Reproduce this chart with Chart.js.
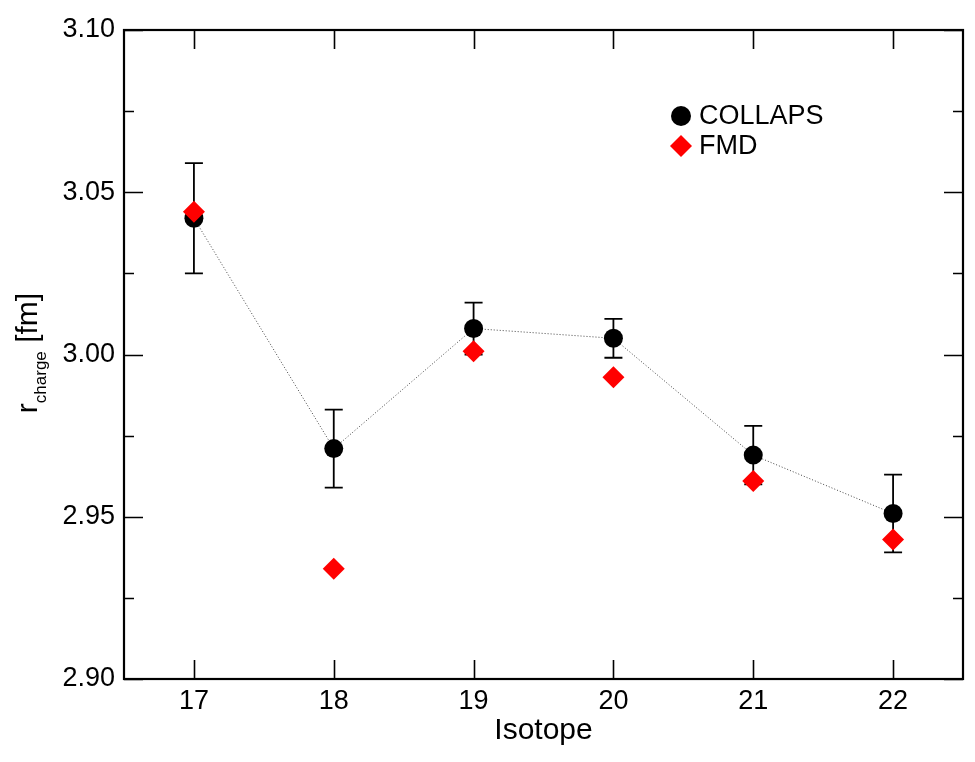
<!DOCTYPE html>
<html>
<head>
<meta charset="utf-8">
<script src="https://cdn.jsdelivr.net/npm/chart.js@4.4.1/dist/chart.umd.min.js"></script>
<style>
  html, body { margin: 0; padding: 0; background: #ffffff; }
  #wrap { width: 975px; height: 762px; }
</style>
</head>
<body>
<div id="wrap"><canvas id="c" width="975" height="762"></canvas></div>
<script>
// Charge radii of the isotopes (fm)
const isotopes = [17, 18, 19, 20, 21, 22];
const collaps = [3.042, 2.971, 3.008, 3.005, 2.969, 2.951];
const collapsErr = [0.017, 0.012, 0.008, 0.006, 0.009, 0.012];
const fmd = [3.044, 2.934, 3.001, 2.993, 2.961, 2.943];
const yTicks = [2.90, 2.95, 3.00, 3.05, 3.10];
const yMinorTicks = [2.925, 2.975, 3.025, 3.075];

const FONT = '"Liberation Sans", Arial, Helvetica, sans-serif';

// Error bars, frame with inward ticks, axis titles and legend
const decorations = {
  id: 'decorations',
  beforeDatasetsDraw(chart) {
    const ctx = chart.ctx;
    const xs = chart.scales.x, ys = chart.scales.y;
    ctx.save();
    ctx.strokeStyle = '#000';
    ctx.lineWidth = 1.8;
    isotopes.forEach((iso, i) => {
      const px = xs.getPixelForValue(iso);
      const top = ys.getPixelForValue(collaps[i] + collapsErr[i]);
      const bot = ys.getPixelForValue(collaps[i] - collapsErr[i]);
      ctx.beginPath();
      ctx.moveTo(px, top); ctx.lineTo(px, bot);
      ctx.moveTo(px - 9, top); ctx.lineTo(px + 9, top);
      ctx.moveTo(px - 9, bot); ctx.lineTo(px + 9, bot);
      ctx.stroke();
    });
    ctx.restore();
  },
  afterDraw(chart) {
    const ctx = chart.ctx;
    const a = chart.chartArea;
    const xs = chart.scales.x, ys = chart.scales.y;
    ctx.save();
    ctx.strokeStyle = '#000';
    // frame
    ctx.lineWidth = 2.2;
    ctx.strokeRect(a.left, a.top, a.right - a.left, a.bottom - a.top);
    // ticks
    ctx.lineWidth = 1.6;
    ctx.beginPath();
    isotopes.forEach(v => {
      const px = Math.round(xs.getPixelForValue(v)) + 0.5;
      ctx.moveTo(px, a.bottom); ctx.lineTo(px, a.bottom - 19);
      ctx.moveTo(px, a.top); ctx.lineTo(px, a.top + 19);
    });
    yTicks.forEach(v => {
      const py = Math.round(ys.getPixelForValue(v)) + 0.5;
      ctx.moveTo(a.left, py); ctx.lineTo(a.left + 19, py);
      ctx.moveTo(a.right, py); ctx.lineTo(a.right - 19, py);
    });
    yMinorTicks.forEach(v => {
      const py = Math.round(ys.getPixelForValue(v)) + 0.5;
      ctx.moveTo(a.left, py); ctx.lineTo(a.left + 10, py);
      ctx.moveTo(a.right, py); ctx.lineTo(a.right - 10, py);
    });
    ctx.stroke();

    // x title
    ctx.fillStyle = '#000';
    ctx.font = '30px ' + FONT;
    ctx.textAlign = 'center';
    ctx.textBaseline = 'alphabetic';
    ctx.fillText('Isotope', (a.left + a.right) / 2, 739);

    // y title: r_charge [fm], rotated
    ctx.save();
    ctx.translate(37, 0);
    ctx.rotate(-Math.PI / 2);
    ctx.textAlign = 'left';
    const parts = [
      { t: 'r', f: '30px ' + FONT, dy: 0 },
      { t: 'charge', f: '17px ' + FONT, dy: 9 },
      { t: ' [fm]', f: '30px ' + FONT, dy: 0 }
    ];
    let total = 0;
    parts.forEach(p => { ctx.font = p.f; p.w = ctx.measureText(p.t).width; total += p.w; });
    let cx = -353 - total / 2;
    parts.forEach(p => {
      ctx.font = p.f;
      ctx.fillText(p.t, cx, p.dy);
      cx += p.w;
    });
    ctx.restore();

    // legend
    ctx.font = '27px ' + FONT;
    ctx.textAlign = 'left';
    ctx.textBaseline = 'middle';
    ctx.fillStyle = '#000';
    ctx.beginPath();
    ctx.arc(681, 116, 10, 0, Math.PI * 2);
    ctx.fill();
    ctx.fillText(chart.data.datasets[1].label, 699, 117);
    ctx.fillStyle = '#ff0000';
    ctx.beginPath();
    ctx.moveTo(670, 146); ctx.lineTo(681, 135); ctx.lineTo(692, 146); ctx.lineTo(681, 157);
    ctx.closePath();
    ctx.fill();
    ctx.fillStyle = '#000';
    ctx.fillText(chart.data.datasets[0].label, 699, 147);
    ctx.restore();
  }
};

new Chart(document.getElementById('c'), {
  type: 'scatter',
  data: {
    datasets: [
      {
        label: 'FMD',
        data: isotopes.map((x, i) => ({ x: x, y: fmd[i] })),
        pointStyle: 'rectRot',
        pointRadius: 11,
        pointBorderWidth: 0,
        backgroundColor: '#ff0000',
        borderColor: '#ff0000',
        showLine: false,
        order: 0
      },
      {
        label: 'COLLAPS',
        data: isotopes.map((x, i) => ({ x: x, y: collaps[i] })),
        pointStyle: 'circle',
        pointRadius: 9.5,
        pointBorderWidth: 0,
        pointBackgroundColor: '#000000',
        backgroundColor: '#000000',
        borderColor: '#444444',
        borderWidth: 1,
        borderDash: [1, 2],
        showLine: true,
        order: 1
      }
    ]
  },
  options: {
    responsive: false,
    devicePixelRatio: 1,
    animation: false,
    layout: { padding: { left: 0, right: 12, top: 30, bottom: 0 } },
    plugins: {
      legend: { display: false },
      tooltip: { enabled: false }
    },
    scales: {
      x: {
        type: 'linear',
        min: 16.5,
        max: 22.5,
        afterFit(s) { s.height = 83; },
        afterBuildTicks(s) { s.ticks = isotopes.map(v => ({ value: v })); },
        grid: { display: false, drawTicks: false },
        border: { display: false },
        ticks: {
          padding: 6,
          color: '#000',
          font: { family: FONT, size: 27 },
          callback: v => String(v)
        }
      },
      y: {
        type: 'linear',
        min: 2.90,
        max: 3.10,
        afterFit(s) { s.width = 124; },
        afterBuildTicks(s) { s.ticks = yTicks.map(v => ({ value: v })); },
        grid: { display: false, drawTicks: false },
        border: { display: false },
        ticks: {
          padding: 9,
          color: '#000',
          font: { family: FONT, size: 27 },
          callback: v => Number(v).toFixed(2)
        }
      }
    }
  },
  plugins: [decorations]
});
</script>
</body>
</html>
